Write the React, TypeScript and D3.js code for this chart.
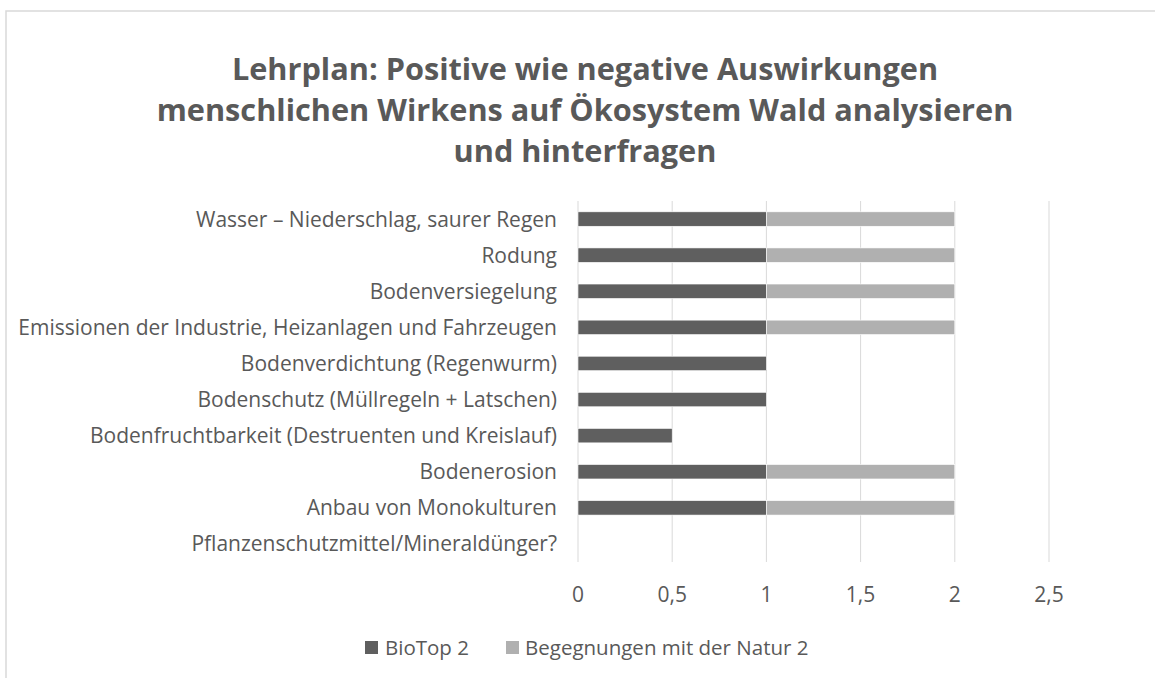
import React from "react";
import * as d3 from "d3";

const width = 1155;
const height = 678;

const titleLines = [
  "Lehrplan: Positive wie negative Auswirkungen",
  "menschlichen Wirkens auf Ökosystem Wald analysieren",
  "und hinterfragen",
];

const categories = [
  "Wasser – Niederschlag, saurer Regen",
  "Rodung",
  "Bodenversiegelung",
  "Emissionen der Industrie, Heizanlagen und Fahrzeugen",
  "Bodenverdichtung (Regenwurm)",
  "Bodenschutz (Müllregeln + Latschen)",
  "Bodenfruchtbarkeit (Destruenten und Kreislauf)",
  "Bodenerosion",
  "Anbau von Monokulturen",
  "Pflanzenschutzmittel/Mineraldünger?",
];

const bioTop = [1, 1, 1, 1, 1, 1, 0.5, 1, 1, 0];
const begegnungen = [1, 1, 1, 1, 0, 0, 0, 1, 1, 0];

const seriesNames = ["BioTop 2", "Begegnungen mit der Natur 2"];
const seriesColors = ["#5f5f5f", "#b0b0b0"];

const xTicks = [0, 0.5, 1, 1.5, 2, 2.5];

const plot = { left: 578, right: 1049, top: 201, bottom: 562 };
const font = "'Open Sans', sans-serif";
const textColor = "#595959";

export default function App() {
  const xScale = d3.scaleLinear().domain([0, 2.5]).range([plot.left, plot.right]);
  const yScale = d3
    .scaleBand()
    .domain(categories)
    .range([plot.top, plot.bottom])
    .paddingInner(0.6)
    .paddingOuter(0.3);

  const rows = categories.map((c, i) => ({ cat: c, values: [bioTop[i], begegnungen[i]] }));
  const stack = d3
    .stack<any>()
    .keys(["0", "1"])
    .value((d, k) => d.values[+k]);
  const stacked = stack(rows);

  const fmt = (v: number) => String(v).replace(".", ",");
  const mid = (c: string) => (yScale(c) || 0) + yScale.bandwidth() / 2;

  return (
    <svg
      width={width}
      height={height}
      style={{ position: "absolute", left: 0, top: 0, background: "#fff" }}
      fontFamily={font}
    >
      <rect x={6} y={11} width={1170} height={700} fill="#fff" stroke="#d9d9d9" strokeWidth={1.5} />
      {titleLines.map((t, i) => (
        <text
          key={i}
          x={585}
          y={80 + i * 41}
          textAnchor="middle"
          fontSize={30.7}
          fontWeight="bold"
          fill={textColor}
        >
          {t}
        </text>
      ))}
      {xTicks.map((t) => (
        <line
          key={t}
          x1={xScale(t)}
          x2={xScale(t)}
          y1={plot.top}
          y2={plot.bottom}
          stroke="#d9d9d9"
          strokeWidth={1}
        />
      ))}
      {stacked.map((layer, si) =>
        layer.map((d, i) =>
          d[1] - d[0] > 0 ? (
            <rect
              key={si + "-" + i}
              x={xScale(d[0])}
              y={yScale(categories[i])}
              width={xScale(d[1]) - xScale(d[0])}
              height={yScale.bandwidth()}
              fill={seriesColors[si]}
              stroke="#fff"
              strokeWidth={0.6}
            />
          ) : null
        )
      )}
      {categories.map((c) => (
        <text
          key={c}
          x={557}
          y={mid(c) + 7.5}
          textAnchor="end"
          fontSize={21}
          fill={textColor}
        >
          {c}
        </text>
      ))}
      {xTicks.map((t) => (
        <text
          key={"l" + t}
          x={xScale(t)}
          y={601.5}
          textAnchor="middle"
          fontSize={21}
          fill={textColor}
        >
          {fmt(t)}
        </text>
      ))}
      <g>
        <rect x={365} y={641} width={13} height={13} fill={seriesColors[0]} />
        <text x={385} y={655} fontSize={20.5} fill={textColor}>
          {seriesNames[0]}
        </text>
        <rect x={506} y={641} width={13} height={13} fill={seriesColors[1]} />
        <text x={525} y={655} fontSize={20.5} fill={textColor}>
          {seriesNames[1]}
        </text>
      </g>
    </svg>
  );
}
